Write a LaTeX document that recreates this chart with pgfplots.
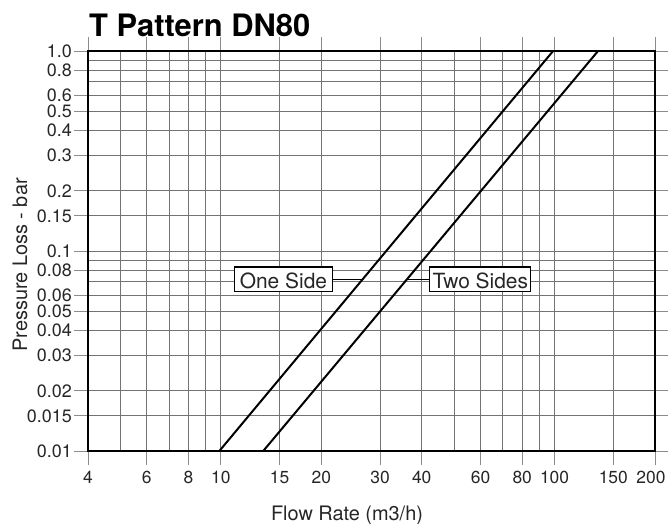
\documentclass[border=0pt]{standalone}
\usepackage{pgfplots}
\pgfplotsset{compat=1.18}
\usepackage{fontspec}
\setmainfont{TeX Gyre Heros}
\begin{document}
\begin{tikzpicture}
\begin{axis}[
  scale only axis, width=567bp, height=400bp,
  xmode=log, ymode=log,
  xmin=4, xmax=200, ymin=0.01, ymax=1,
  xtick={4,6,8,10,15,20,30,40,60,80,100,150,200},
  xticklabels={4,6,8,10,15,20,30,40,60,80,100,150,200\hspace*{8bp}},
  minor xtick={5,7,9,50,70,90},
  ytick={0.01,0.015,0.02,0.03,0.04,0.05,0.06,0.08,0.1,0.15,0.2,0.3,0.4,0.5,0.6,0.8,1},
  yticklabels={0.01,0.015,0.02,0.03,0.04,0.05,0.06,0.08,0.1,0.15,0.2,0.3,0.4,0.5,0.6,0.8,1.0},
  minor ytick={0.07,0.09,0.7,0.9},
  grid=both,
  grid style={draw=black!55, line width=1bp},
  minor grid style={draw=black!55, line width=1bp},
  major grid style={draw=black!55, line width=1bp},
  tick align=outside,
  major tick length=14bp,
  minor tick length=0pt,
  tick style={draw=black!45, line width=1bp},
  axis line style={line width=1.6bp},
  xticklabel style={font=\fontsize{17.5}{18}\selectfont, text=black!85, inner sep=2bp, yshift=-4bp},
  yticklabel style={font=\fontsize{18}{19}\selectfont, text=black!85, inner xsep=2bp, inner ysep=0pt, text height=12.5bp, text depth=0pt},
  clip=false,
]
\addplot[black, line width=2bp] coordinates {(9.9,0.01) (99,1)};
\addplot[black, line width=2bp] coordinates {(13.4,0.01) (135,1)};
\draw[black, line width=1bp] (axis cs:21.7,0.07205) -- (axis cs:26.6,0.07205);
\draw[black, line width=1bp] (axis cs:35.9,0.07205) -- (axis cs:42.15,0.07205);
\node[draw=black, line width=1.1bp, fill=white, anchor=east, inner xsep=5.5bp, inner ysep=3.7bp,
  text height=17.5bp, text depth=0bp, font=\fontsize{21}{22}\selectfont, text=black!85]
  at (axis cs:21.7,0.07205) {One Side};
\node[draw=black, line width=1.1bp, fill=white, anchor=west, inner xsep=2.7bp, inner ysep=3.7bp,
  text height=17.5bp, text depth=0bp, font=\fontsize{21}{22}\selectfont, text=black!85]
  at (axis cs:42.15,0.07205) {Two Sides};
\end{axis}
\node[anchor=base west, inner sep=0pt, font=\bfseries\fontsize{31}{32}\selectfont]
  at ([xshift=1bp,yshift=14.3bp]current axis.north west) {T Pattern DN80};
\node[anchor=base, inner sep=0pt, font=\fontsize{20}{21}\selectfont, text=black!85]
  at ([xshift=259bp,yshift=-69bp]current axis.south west) {Flow Rate (m3/h)};
\node[rotate=90, anchor=center, inner sep=0pt, font=\fontsize{20}{21}\selectfont, text=black!85]
  at ([xshift=-68bp,yshift=186bp]current axis.south west) {Pressure Loss - bar};
\pgfresetboundingbox
\path ([xshift=-88bp,yshift=-73bp]current axis.south west) rectangle ([xshift=13bp,yshift=51bp]current axis.north east);
\end{tikzpicture}
\end{document}
